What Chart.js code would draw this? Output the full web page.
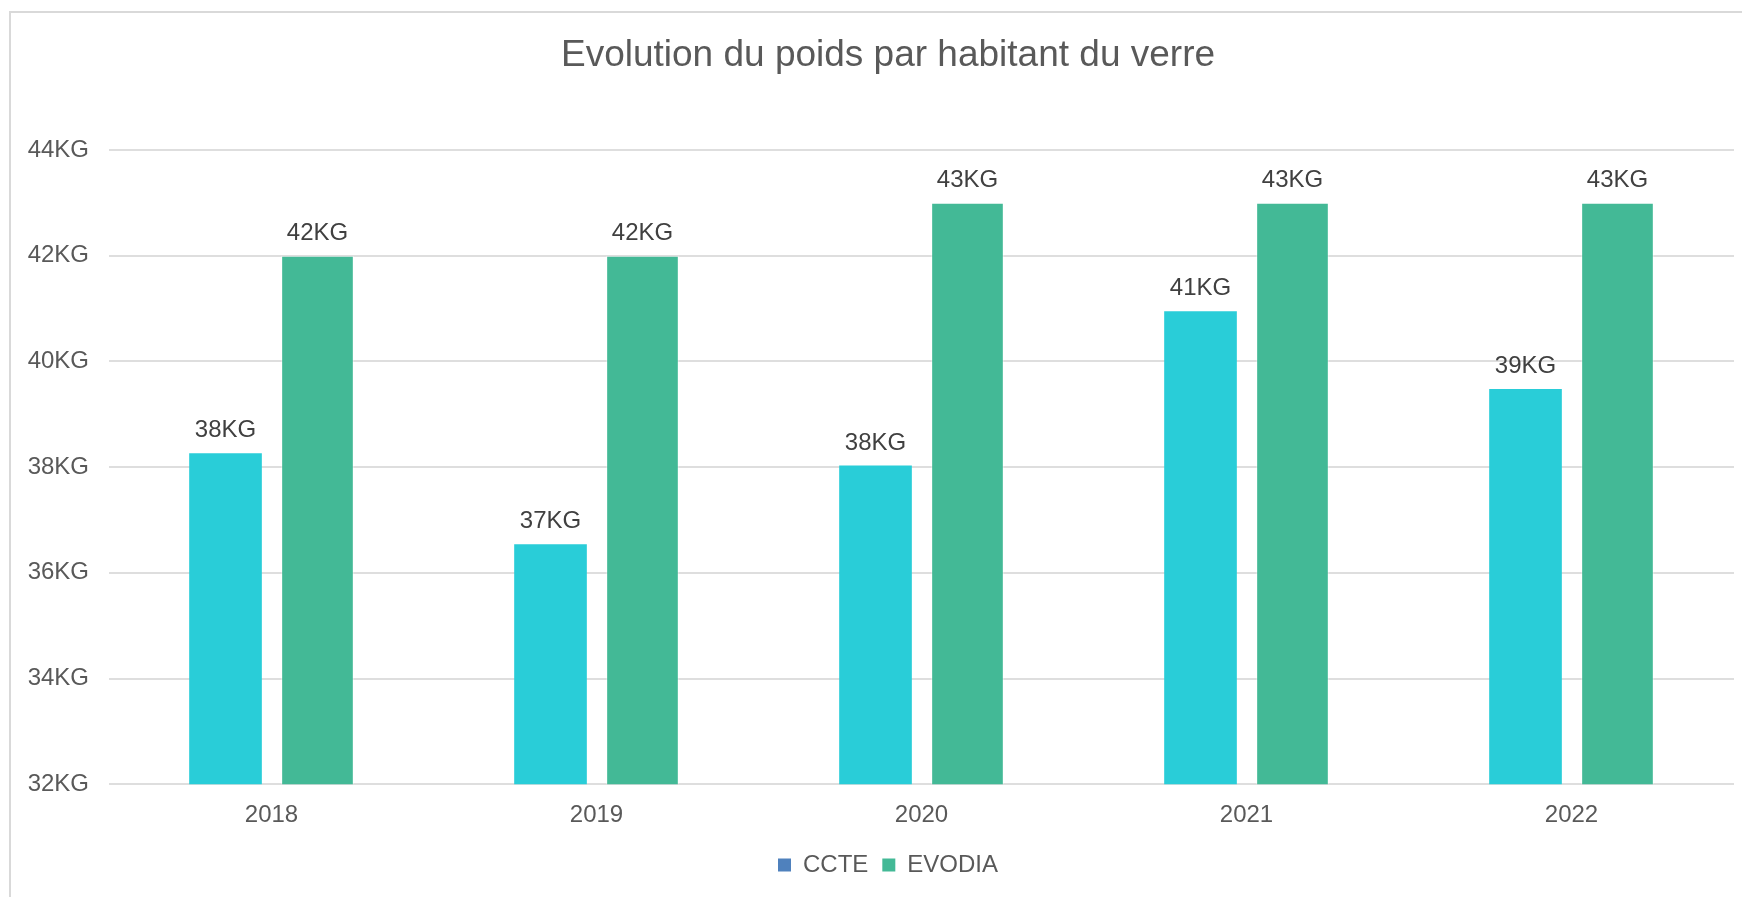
<!DOCTYPE html>
<html>
<head>
<meta charset="utf-8">
<script src="https://cdn.jsdelivr.net/npm/chart.js@4.4.1/dist/chart.umd.min.js"></script>
<style>
  html, body { margin: 0; padding: 0; background: #fff; overflow: hidden; }
  .frame { position: absolute; left: 9px; top: 11px; width: 1800px; height: 950px;
           border-left: 2px solid #d9d9d9; border-top: 2px solid #d9d9d9; }
  .wrap { position: absolute; left: 0; top: 0; width: 1742px; height: 887px; }
</style>
</head>
<body>
<div class="frame"></div>
<div class="wrap"><canvas id="chart"></canvas></div>
<script>
// ---------- DATI ----------
const annees = ['2018', '2019', '2020', '2021', '2022'];
const ccte = [38.26, 36.54, 38.03, 40.95, 39.48];
const evodia = [42.0, 42.0, 43.0, 43.0, 43.0];
const yTicks = [32, 34, 36, 38, 40, 42, 44];

const FONT = "'Liberation Sans', Arial, sans-serif";
const couleurBarres = ['#29cdd8', '#43b996'];
const couleurLegende = ['#4f81bd', '#43b996'];

// etichette sopra le barre
const etiquettes = {
  id: 'etiquettes',
  afterDatasetsDraw(chart) {
    const ctx = chart.ctx;
    ctx.save();
    ctx.font = '24px ' + FONT;
    ctx.fillStyle = '#404040';
    ctx.textAlign = 'center';
    ctx.textBaseline = 'alphabetic';
    chart.data.datasets.forEach((ds, i) => {
      chart.getDatasetMeta(i).data.forEach((bar, j) => {
        ctx.fillText(Math.round(ds.data[j]) + 'KG', bar.x, bar.y - 16);
      });
    });
    ctx.restore();
  }
};

// titolo e legenda centrati un po' più a destra, come nell'originale
const decalage = {
  id: 'decalage',
  afterLayout(chart) {
    [chart.titleBlock, chart.legend].forEach(b => {
      if (!b) return;
      b.left += 21;
      b.right += 21;
    });
  }
};

new Chart(document.getElementById('chart'), {
  type: 'bar',
  data: {
    labels: annees,
    datasets: [
      { label: 'CCTE', data: ccte, backgroundColor: couleurBarres[0],
        categoryPercentage: 0.566, barPercentage: 0.79 },
      { label: 'EVODIA', data: evodia, backgroundColor: couleurBarres[1],
        borderColor: 'rgba(255,255,255,0.45)', borderWidth: 1,
        categoryPercentage: 0.566, barPercentage: 0.79 }
    ]
  },
  options: {
    responsive: true,
    maintainAspectRatio: false,
    animation: false,
    layout: { padding: { left: 0, right: 8, top: 0, bottom: 0 } },
    scales: {
      x: {
        grid: { display: false },
        border: { display: false },
        ticks: { color: '#595959', font: { family: FONT, size: 24 }, padding: 9 }
      },
      y: {
        min: 32, max: 44,
        afterBuildTicks: s => { s.ticks = yTicks.map(v => ({ value: v })); },
        afterFit: s => { s.width = 109; },
        grid: { color: '#dedede', lineWidth: 2, drawTicks: false },
        border: { display: false },
        ticks: { color: '#595959', font: { family: FONT, size: 24 }, padding: 20,
                 callback: v => v + 'KG' }
      }
    },
    plugins: {
      title: {
        display: true,
        text: 'Evolution du poids par habitant du verre',
        color: '#595959',
        font: { family: FONT, size: 37, weight: 'normal' },
        padding: { top: 34, bottom: 71.6 }
      },
      legend: {
        position: 'bottom',
        labels: {
          color: '#595959',
          font: { family: FONT, size: 24 },
          boxWidth: 13, boxHeight: 13, padding: 14,
          generateLabels(chart) {
            const items = Chart.defaults.plugins.legend.labels.generateLabels(chart);
            items.forEach((it, i) => {
              it.fillStyle = couleurLegende[i];
              it.strokeStyle = couleurLegende[i];
              it.lineWidth = 0;
            });
            return items;
          }
        }
      },
      tooltip: { enabled: false }
    }
  },
  plugins: [etiquettes, decalage]
});
</script>
</body>
</html>
